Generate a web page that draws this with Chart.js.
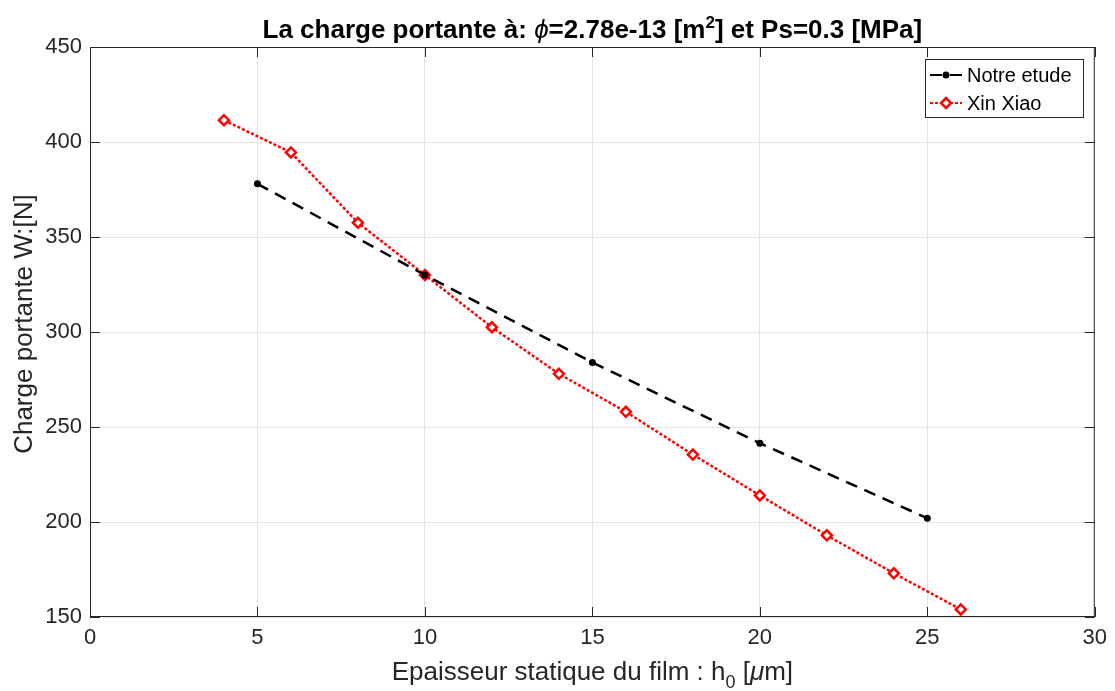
<!DOCTYPE html>
<html>
<head>
<meta charset="utf-8">
<script src="https://cdn.jsdelivr.net/npm/chart.js@4"></script>
<style>
  html, body { margin: 0; padding: 0; background: #fff; }
  #wrap { width: 1115px; height: 691px; }
</style>
</head>
<body>
<div id="wrap"><canvas id="chargeChart" width="1115" height="691"></canvas></div>
<script>
// data
const notreX = [5, 10, 15, 20, 25];
const notreW = [378, 330, 284, 241.5, 202];
const xiaoX = [4, 6, 8, 10, 12, 14, 16, 18, 20, 22, 24, 26];
const xiaoW = [411.5, 394.5, 357.5, 330, 302.5, 278, 258, 235.5, 214, 193, 173, 154];
const seriesNames = ["Notre etude", "Xin Xiao"];
const xTicks = [0, 5, 10, 15, 20, 25, 30];
const yTicks = [150, 200, 250, 300, 350, 400, 450];

const FONT = "'Liberation Sans', Arial, Helvetica, sans-serif";
const AXIS = "#262626";

// draws a run of [text, font, dy] pieces starting at x
function drawRuns(ctx, runs, x, y) {
  runs.forEach(r => {
    ctx.font = r[1];
    ctx.fillText(r[0], x, y + (r[2] || 0));
    x += ctx.measureText(r[0]).width;
  });
}
function runsWidth(ctx, runs) {
  let w = 0;
  runs.forEach(r => { ctx.font = r[1]; w += ctx.measureText(r[0]).width; });
  return w;
}

// title, axis labels, box, inward ticks and legend, matlab style
const matlabPlugin = {
  id: 'matlabBox',
  afterDatasetsDraw(chart) {
    const { ctx, chartArea: a, scales } = chart;
    const cx = (a.left + a.right) / 2;
    ctx.save();
    ctx.strokeStyle = AXIS;
    ctx.lineWidth = 1;
    ctx.strokeRect(a.left + 0.5, a.top + 0.5, a.right - a.left - 1, a.bottom - a.top - 1);
    ctx.beginPath();
    xTicks.forEach(v => {
      const x = Math.round(scales.x.getPixelForValue(v)) + 0.5;
      ctx.moveTo(x, a.bottom); ctx.lineTo(x, a.bottom - 10);
      ctx.moveTo(x, a.top); ctx.lineTo(x, a.top + 10);
    });
    yTicks.forEach(v => {
      const y = Math.round(scales.y.getPixelForValue(v)) + 0.5;
      ctx.moveTo(a.left, y); ctx.lineTo(a.left + 10, y);
      ctx.moveTo(a.right, y); ctx.lineTo(a.right - 10, y);
    });
    ctx.stroke();

    // title
    const bold = "bold 26px " + FONT;
    const title = [
      ["La charge portante à: ", bold],
      ["ϕ", "italic 26px " + FONT],
      ["=2.78e-13 [m", bold],
      ["2", "bold 17px " + FONT, -10],
      ["] et Ps=0.3 [MPa]", bold]
    ];
    ctx.fillStyle = "#000";
    ctx.textBaseline = "alphabetic";
    ctx.textAlign = "left";
    drawRuns(ctx, title, cx - runsWidth(ctx, title) / 2, 38);

    // x label
    const reg = "26px " + FONT;
    const xlab = [
      ["Epaisseur statique du film : h", reg],
      ["0", "18px " + FONT, 8],
      [" [", reg],
      ["μ", "italic 26px " + FONT],
      ["m]", reg]
    ];
    ctx.fillStyle = AXIS;
    drawRuns(ctx, xlab, cx - runsWidth(ctx, xlab) / 2, 680);

    // y label
    ctx.translate(32, (a.top + a.bottom) / 2 - 8);
    ctx.rotate(-Math.PI / 2);
    ctx.font = reg;
    ctx.textAlign = "center";
    ctx.fillText("Charge portante W:[N]", 0, 0);
    ctx.setTransform(1, 0, 0, 1, 0, 0);

    // legend
    const lx = 925, ly = 59, lw = 158, lh = 58;
    ctx.textAlign = "left";
    ctx.fillStyle = "#fff";
    ctx.fillRect(lx, ly, lw, lh);
    ctx.strokeStyle = AXIS;
    ctx.strokeRect(lx + 0.5, ly + 0.5, lw, lh);
    chart.data.datasets.forEach((ds, i) => {
      const y = ly + 16 + i * 28;
      ctx.strokeStyle = ds.borderColor;
      ctx.lineWidth = 2;
      ctx.setLineDash(ds.borderDash);
      ctx.beginPath();
      ctx.moveTo(lx + 5, y); ctx.lineTo(lx + 37, y);
      ctx.stroke();
      ctx.setLineDash([]);
      if (i === 0) {
        ctx.fillStyle = "#000";
        ctx.beginPath(); ctx.arc(lx + 21, y, 3.5, 0, Math.PI * 2); ctx.fill();
      } else {
        ctx.fillStyle = "#fff";
        ctx.strokeStyle = "#ff0000";
        ctx.lineWidth = 2.5;
        ctx.beginPath();
        ctx.moveTo(lx + 21, y - 5); ctx.lineTo(lx + 26, y);
        ctx.lineTo(lx + 21, y + 5); ctx.lineTo(lx + 16, y);
        ctx.closePath(); ctx.fill(); ctx.stroke();
      }
      ctx.fillStyle = "#000";
      ctx.font = "20px " + FONT;
      ctx.textBaseline = "middle";
      ctx.fillText(ds.label, lx + 42, y + 1);
    });
    ctx.restore();
  }
};

const ctx = document.getElementById("chargeChart").getContext("2d");
new Chart(ctx, {
  type: "scatter",
  data: {
    datasets: [
      {
        label: seriesNames[0],
        data: notreX.map((x, i) => ({ x: x, y: notreW[i] })),
        showLine: true,
        borderColor: "#000000",
        borderWidth: 2.5,
        borderDash: [12, 8],
        pointStyle: "circle",
        pointRadius: 3.5,
        pointBackgroundColor: "#000000",
        pointBorderColor: "#000000",
        pointBorderWidth: 0
      },
      {
        label: seriesNames[1],
        data: xiaoX.map((x, i) => ({ x: x, y: xiaoW[i] })),
        showLine: true,
        borderColor: "#ff0000",
        borderWidth: 2.5,
        borderDash: [3, 2],
        pointStyle: "rectRot",
        pointRadius: 5,
        pointBackgroundColor: "#ffffff",
        pointBorderColor: "#ff0000",
        pointBorderWidth: 2.5
      }
    ]
  },
  options: {
    responsive: false,
    animation: false,
    layout: { padding: { left: 0, right: 20, top: 47, bottom: 0 } },
    plugins: {
      legend: { display: false },
      tooltip: { enabled: false },
      title: { display: false }
    },
    scales: {
      x: {
        type: "linear",
        min: 0, max: 30,
        afterBuildTicks: s => { s.ticks = xTicks.map(v => ({ value: v })); },
        afterFit: s => { s.height = 74; },
        grid: { color: "#e3e3e3", drawTicks: false },
        border: { display: false },
        ticks: { color: AXIS, padding: 8, font: { family: FONT, size: 22 } }
      },
      y: {
        type: "linear",
        min: 150, max: 450,
        afterBuildTicks: s => { s.ticks = yTicks.map(v => ({ value: v })); },
        afterFit: s => { s.width = 90; },
        grid: { color: "#e3e3e3", drawTicks: false },
        border: { display: false },
        ticks: { color: AXIS, padding: 8, font: { family: FONT, size: 22 } }
      }
    }
  },
  plugins: [matlabPlugin]
});
</script>
</body>
</html>
